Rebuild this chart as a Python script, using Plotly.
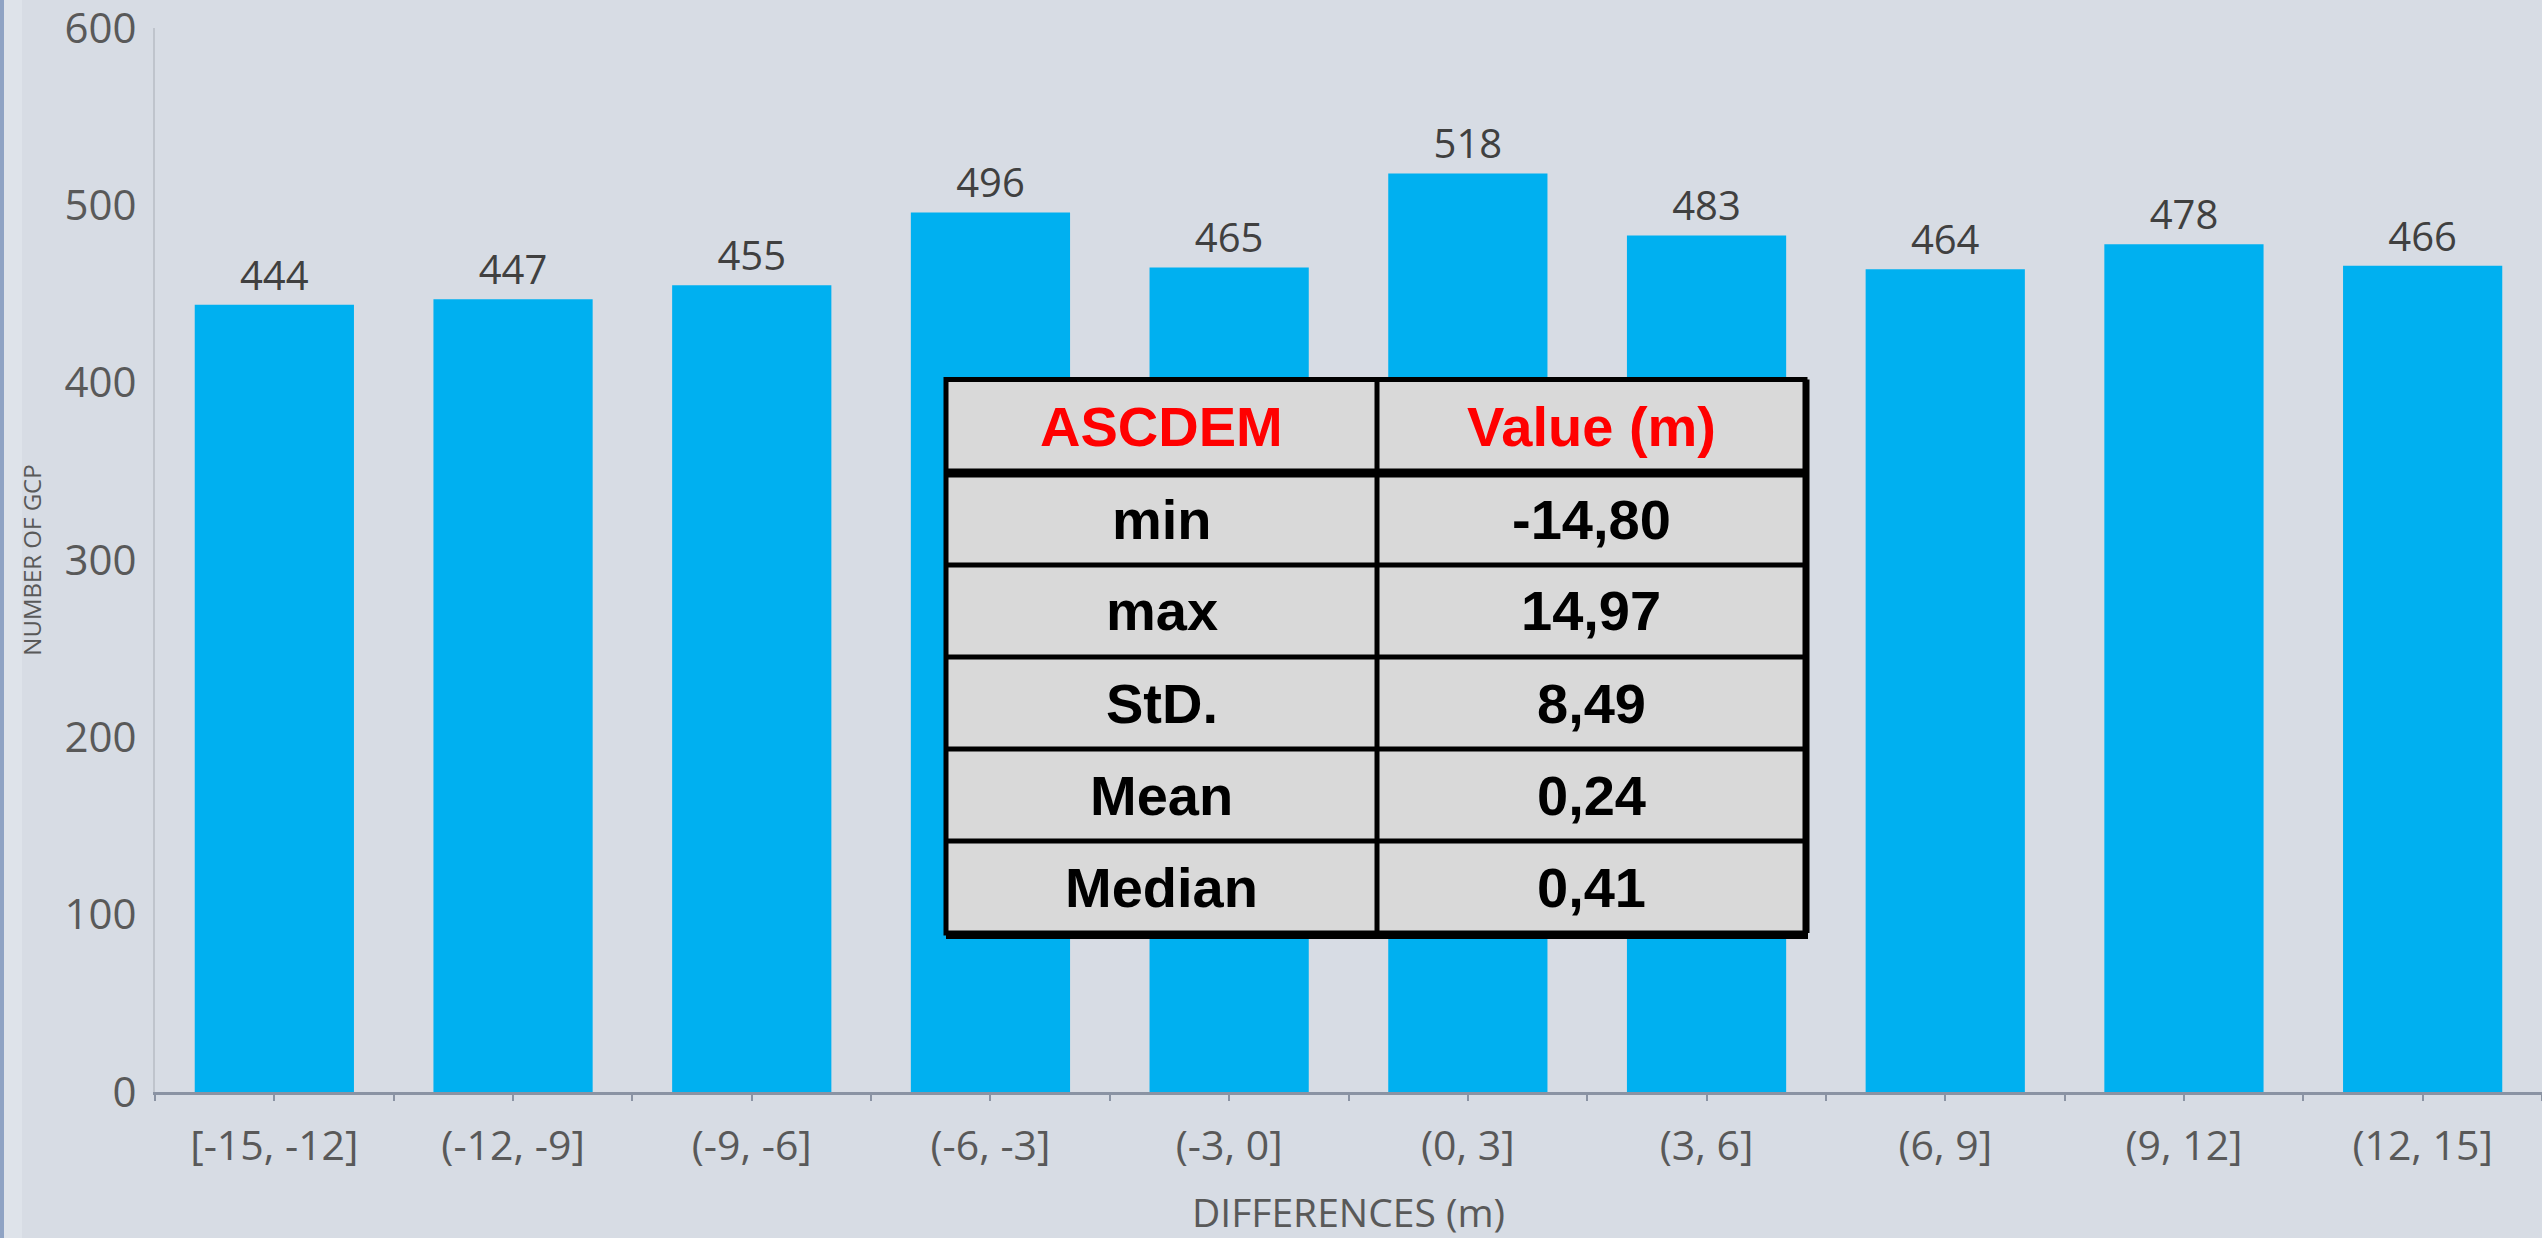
import plotly.graph_objects as go

# ---------------- data ----------------
categories = ["[-15, -12]", "(-12, -9]", "(-9, -6]", "(-6, -3]", "(-3, 0]",
              "(0, 3]", "(3, 6]", "(6, 9]", "(9, 12]", "(12, 15]"]
counts = [444, 447, 455, 496, 465, 518, 483, 464, 478, 466]
y_ticks = [0, 100, 200, 300, 400, 500, 600]

table_header = ["ASCDEM", "Value (m)"]
table_stats = ["min", "max", "StD.", "Mean", "Median"]
table_values = ["-14,80", "14,97", "8,49", "0,24", "0,41"]

# ---------------- layout constants ----------------
W, H = 2542, 1238
ML, MR, MT, MB = 155, 0, 28, 146
PW, PH = W - ML - MR, H - MT - MB

def px(x):  # pixel x -> paper
    return (x - ML) / PW

def py(y):  # pixel y -> paper
    return (H - MB - y) / PH

BG = "#D7DCE4"
BAR = "#00B0F0"
TICK = "#595959"
TABLE_FONT = "Liberation Sans, Arial, sans-serif"

xs = list(range(len(categories)))

fig = go.Figure()
fig.add_trace(go.Bar(
    x=xs, y=counts,
    marker=dict(color=BAR, line=dict(width=0)),
    width=0.667,
    text=[str(v) for v in counts],
    textposition="outside",
    textfont=dict(family="Open Sans", size=40, color="#404040"),
    cliponaxis=False,
    hoverinfo="skip",
))

shapes = []
annotations = []

# left edge stripe
shapes.append(dict(type="rect", xref="paper", yref="paper",
                   x0=px(0), x1=px(4), y0=py(H), y1=py(0),
                   fillcolor="#8FA3C4", line=dict(width=0), layer="below"))
shapes.append(dict(type="rect", xref="paper", yref="paper",
                   x0=px(4), x1=px(22), y0=py(H), y1=py(0),
                   fillcolor="#DEE3EA", line=dict(width=0), layer="below"))

# ---------------- statistics table ----------------
tx0, tx1, tmid = px(946), px(1805), px(1377)
ty_top = py(379.5)
ty_head = py(473)
row_h = 92
n_rows = len(table_stats)
ty_rows = [py(473 + row_h * (i + 1)) for i in range(n_rows)]
ty_bottom = ty_rows[-1]

shapes.append(dict(type="rect", xref="paper", yref="paper",
                   x0=tx0, x1=tx1, y0=ty_bottom, y1=ty_top,
                   fillcolor="#D9D9D9", line=dict(color="black", width=5)))
shapes.append(dict(type="line", xref="paper", yref="paper",
                   x0=tmid, x1=tmid, y0=ty_bottom, y1=ty_top,
                   line=dict(color="black", width=5)))
shapes.append(dict(type="line", xref="paper", yref="paper",
                   x0=tx0, x1=tx1, y0=ty_head, y1=ty_head,
                   line=dict(color="black", width=9)))
# slightly heavier bottom / right edge
shapes.append(dict(type="line", xref="paper", yref="paper",
                   x0=tx0, x1=tx1 + px(158) - px(155), y0=ty_bottom - (py(0) - py(2)),
                   y1=ty_bottom - (py(0) - py(2)),
                   line=dict(color="black", width=8)))
shapes.append(dict(type="line", xref="paper", yref="paper",
                   x0=tx1 + px(157) - px(155), x1=tx1 + px(157) - px(155),
                   y0=ty_bottom, y1=ty_top,
                   line=dict(color="black", width=5)))
for yv in ty_rows[:-1]:
    shapes.append(dict(type="line", xref="paper", yref="paper",
                       x0=tx0, x1=tx1, y0=yv, y1=yv,
                       line=dict(color="black", width=5)))

col_centers = [(tx0 + tmid) / 2, (tmid + tx1) / 2]
for cx, txt in zip(col_centers, table_header):
    annotations.append(dict(xref="paper", yref="paper", x=cx, y=(ty_top + ty_head) / 2,
                            text=f"<b>{txt}</b>", showarrow=False,
                            font=dict(family=TABLE_FONT, size=56, color="#FF0000"),
                            xanchor="center", yanchor="middle"))
prev = ty_head
for i, (s, v) in enumerate(zip(table_stats, table_values)):
    cy = (prev + ty_rows[i]) / 2
    for cx, txt in zip(col_centers, (s, v)):
        annotations.append(dict(xref="paper", yref="paper", x=cx, y=cy,
                                text=f"<b>{txt}</b>", showarrow=False,
                                font=dict(family=TABLE_FONT, size=56, color="black"),
                                xanchor="center", yanchor="middle"))
    prev = ty_rows[i]

fig.update_layout(
    width=W, height=H,
    margin=dict(l=ML, r=MR, t=MT, b=MB, pad=0, autoexpand=False),
    paper_bgcolor=BG, plot_bgcolor=BG,
    showlegend=False,
    bargap=0.333,
    font=dict(family="Open Sans", color=TICK),
    shapes=shapes,
    annotations=annotations,
    xaxis=dict(
        range=[-0.5, len(categories) - 0.5],
        tickmode="array", tickvals=xs, ticktext=categories,
        tickfont=dict(family="Open Sans", size=41, color=TICK),
        ticks="outside", ticklen=6, tickwidth=2, tickcolor="#8A93A3",
        minor=dict(tickmode="array", tickvals=[i - 0.5 for i in xs] + [len(xs) - 0.5],
                   ticks="outside", ticklen=6, tickwidth=2, tickcolor="#8A93A3"),
        showline=True, linecolor="#8A93A3", linewidth=3,
        showgrid=False, zeroline=False,
        ticklabelstandoff=10,
        automargin=False,
        title=dict(text="DIFFERENCES (m)", font=dict(family="Open Sans", size=39, color=TICK),
                   standoff=48),
        fixedrange=True,
    ),
    yaxis=dict(
        range=[0, 600.001],
        tickmode="array", tickvals=y_ticks,
        tickfont=dict(family="Open Sans", size=42, color=TICK),
        ticks="", ticklabelstandoff=8, ticklabeloverflow="allow",
        showline=True, linecolor="#BFC4CC", linewidth=2,
        showgrid=False, zeroline=False,
        automargin=False,
        title=dict(text="NUMBER OF GCP", font=dict(family="Open Sans", size=24, color=TICK),
                   standoff=16),
        fixedrange=True,
    ),
)

fig.write_html("out.html", config={"displayModeBar": False})
